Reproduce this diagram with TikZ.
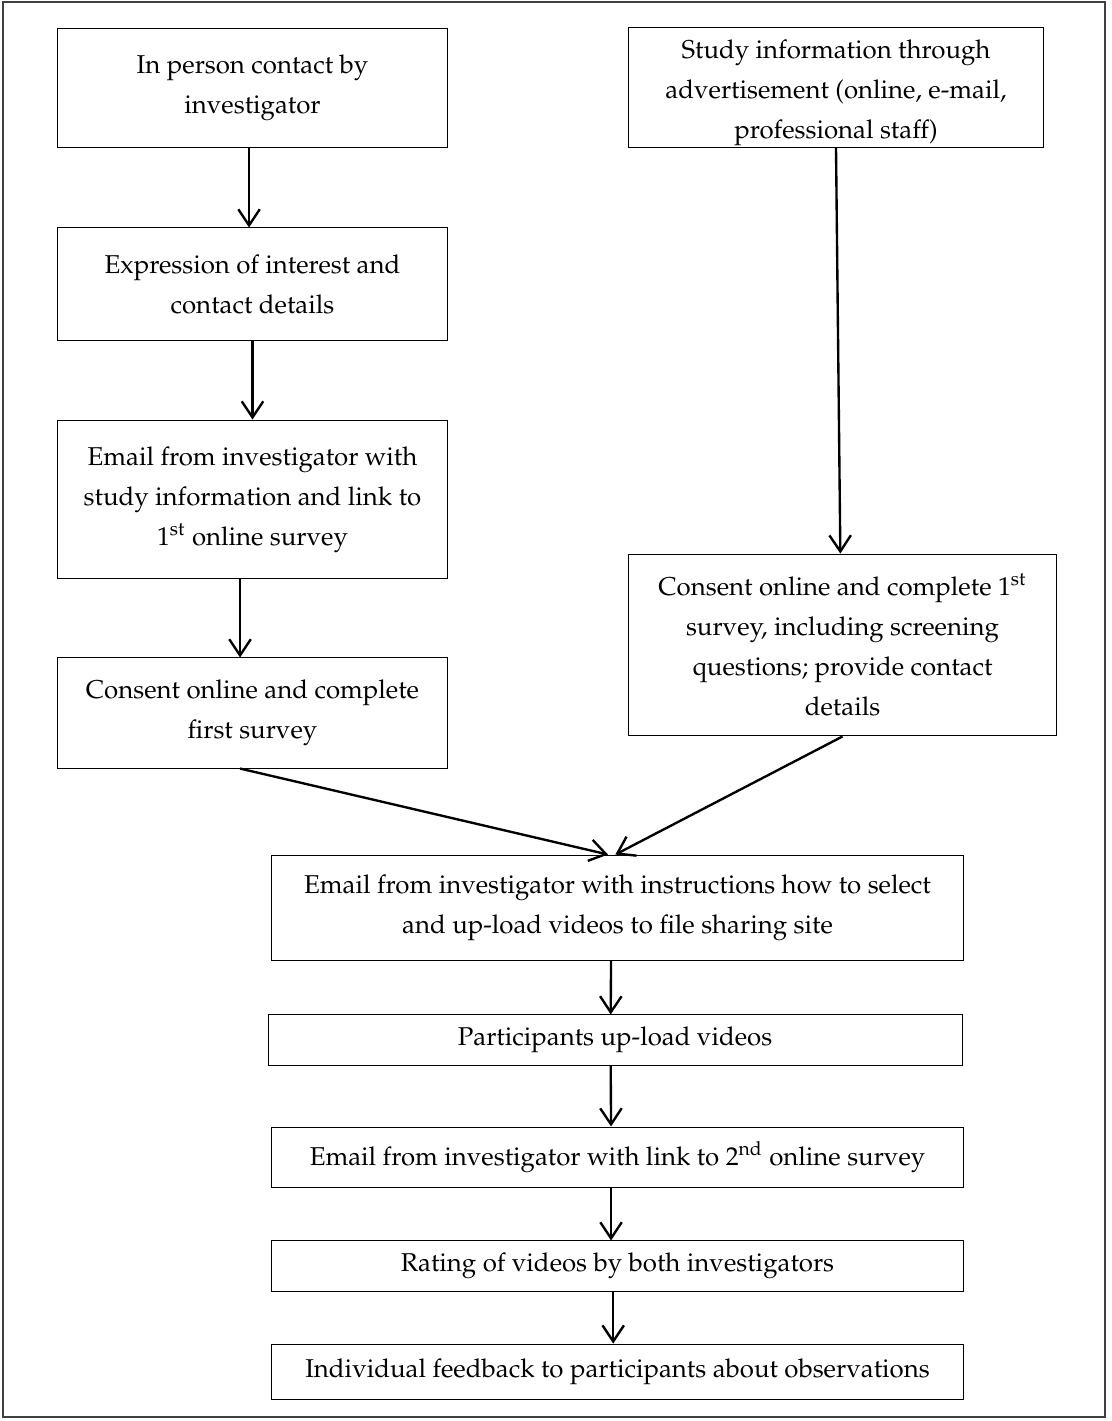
\documentclass[tikz,border=0pt]{standalone}
\usepackage[T1]{fontenc}
\usepackage{mathpazo}
\usetikzlibrary{arrows.meta}

\begin{document}
\begin{tikzpicture}[x=0.465pt,y=-0.465pt,
	box/.style={draw,line width=0.45pt,align=center,inner sep=0pt,
		font=\fontsize{12}{18.6}\selectfont},
	arr/.style={line width=1.1pt,-{Straight Barb[length=7.5pt,width=10pt]}}]
	\useasboundingbox (0,0) rectangle (1111,1421);
	\draw[line width=0.7pt,black!75] (3,2) rectangle (1105,1417);

	\node[box,minimum width=180.9pt,minimum height=54.9pt] (b1) at (252.5,88) {In person contact by\\investigator};
	\node[box,minimum width=180.9pt,minimum height=52.1pt] (b2) at (252.5,284) {Expression of interest and\\contact details};
	\node[box,minimum width=180.9pt,minimum height=73.9pt] (b3) at (252.5,499.5) {Email from investigator with\\study information and link to\\1\textsuperscript{st} online survey};
	\node[box,minimum width=180.9pt,minimum height=51.2pt] (b4) at (252.5,713) {Consent online and complete\\first survey};

	\node[box,minimum width=193.4pt,minimum height=55.8pt] (b5) at (836,87) {\rule{0pt}{14pt}Study information through\\advertisement (online, e-mail,\\professional staff)};
	\node[box,minimum width=198.6pt,minimum height=84.6pt] (b6) at (842.5,645) {Consent online and complete 1\textsuperscript{st}\\survey, including screening\\questions; provide contact\\details};

	\node[box,minimum width=322.2pt,minimum height=48.8pt] (b7) at (617.5,907.5) {Email from investigator with instructions how to select\\and up-load videos to file sharing site};
	\node[box,minimum width=322.7pt,minimum height=23.3pt] (b8) at (615,1040) {Participants up-load videos};
	\node[box,minimum width=322.2pt,minimum height=27.9pt] (b9) at (617.5,1157) {Email from investigator with link to 2\textsuperscript{nd} online survey};
	\node[box,minimum width=322.2pt,minimum height=23.3pt] (b10) at (617.5,1266) {Rating of videos by both investigators};
	\node[box,minimum width=322.2pt,minimum height=26pt] (b11) at (617.5,1372) {Individual feedback to participants about observations};

	\draw[arr] ([xshift=-1.6pt]b1.south) -- ([xshift=-1.6pt]b2.north);
	\draw[arr] (b2.south) -- (b3.north);
	\draw[arr] ([xshift=-5.8pt]b3.south) -- ([xshift=-5.8pt]b4.north);
	\draw[arr] (b5.south) -- ([xshift=-1pt]b6.north);
	\draw[arr] ([xshift=-5.8pt]b4.south) -- ([xshift=-4.4pt]b7.north);
	\draw[arr] (b6.south) -- ([xshift=-1pt]b7.north);
	\draw[arr] ([xshift=-3pt]b7.south) -- ([xshift=-2pt]b8.north);
	\draw[arr] ([xshift=-2pt]b8.south) -- ([xshift=-3pt]b9.north);
	\draw[arr] ([xshift=-3pt]b9.south) -- ([xshift=-3pt]b10.north);
	\draw[arr] ([xshift=-2pt]b10.south) -- ([xshift=-2pt]b11.north);
\end{tikzpicture}
\end{document}
